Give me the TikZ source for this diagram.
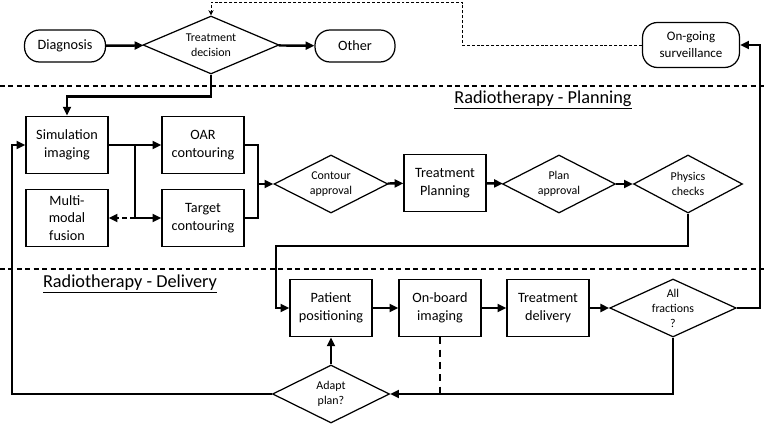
\documentclass[tikz,border=0pt]{standalone}
\usepackage{fontspec}
\setmainfont{Carlito}
\usetikzlibrary{shapes.geometric,arrows.meta}
\tikzset{
	box/.style={
		draw, line width=0.7pt,
		minimum width=1.64cm, minimum height=1.15cm,
		inner sep=1pt, align=center,
		font=\fontsize{8.1}{10}\selectfont
	},
	term/.style={
		draw, line width=0.7pt, rounded corners=0.3cm,
		minimum height=0.64cm, inner sep=1pt, align=center,
		font=\fontsize{8.1}{10}\selectfont
	},
	choice/.style={
		draw, diamond, line width=0.7pt, shape aspect=2.2,
		minimum height=1.16cm, inner sep=0pt, align=center,
		font=\fontsize{6.8}{8.5}\selectfont
	},
	flow/.style={line width=1.4pt, -{Triangle[length=5pt,width=4.5pt]}},
	link/.style={line width=1.4pt},
	lane/.style={line width=0.6pt, dash pattern=on 2.8pt off 2pt},
	back/.style={line width=0.45pt, dash pattern=on 1.7pt off 1.1pt, -{Stealth[length=3pt,width=3pt]}},
	lanetitle/.style={font=\fontsize{10.4}{12}\selectfont}
}
\begin{document}
\begin{tikzpicture}[x=0.02cm,y=-0.02cm]
	\useasboundingbox (0,0) rectangle (766,425);
	\draw[lane] (0,86) -- (766,86);
	\draw[lane] (0,269) -- (766,269);
	\node[lanetitle] (planlbl) at (543,100) {\underline{Radiotherapy - Planning}};
	\node[lanetitle] (delvlbl) at (130,284) {\underline{Radiotherapy - Delivery}};

	\node[term, minimum width=1.62cm] (diag) at (65,46) {Diagnosis};
	\node[choice, minimum width=2.72cm] (dec) at (211,45) {Treatment\\decision};
	\node[term, minimum width=1.6cm] (other) at (355,46) {Other};
	\node[term, minimum width=1.94cm, minimum height=0.9cm, font=\fontsize{7.4}{9.6}\selectfont] (surv) at (691,45) {On-going\\surveillance};

	\node[box] (sim) at (67,145) {Simulation\\imaging};
	\node[box] (oar) at (203,145) {OAR\\contouring};
	\node[box] (fus) at (67,218) {Multi-\\modal\\fusion};
	\node[box] (tgt) at (203,218) {Target\\contouring};
	\node[choice, minimum width=2.28cm] (cont) at (331,184) {Contour\\approval};
	\node[box] (tp) at (445,183) {Treatment\\Planning};
	\node[choice, minimum width=2.26cm] (papp) at (559,184) {Plan\\approval};
	\node[choice, minimum width=2.18cm] (phys) at (688,184) {Physics\\checks};

	\node[box] (pos) at (331,308) {Patient\\positioning};
	\node[box] (obi) at (440,308) {On-board\\imaging};
	\node[box] (del) at (548,308) {Treatment\\delivery};
	\node[choice, minimum width=2.28cm] (allf) at (673,308) {All\\fractions\\?};
	\node[choice, minimum width=2.34cm] (adapt) at (331,394) {Adapt\\plan?};

	\coordinate (split) at (135,145);
	\coordinate (join) at (258,184);

	\draw[flow] (diag) -- (dec);
	\draw[flow] (dec) -- (other);
	\draw[flow] (dec.south) -- ++(0,22) -| (sim.north);
	\draw[back] (surv.west) -| (462,2) -| (dec.north);

	\draw[flow] (sim) -- (oar);
	\draw[flow] (split) |- (tgt.west);
	\draw[flow, dash pattern=on 2.6pt off 2pt] (split |- tgt.west) -- (fus.east);
	\draw[link] (oar.east) -| (join);
	\draw[link] (tgt.east) -| (join);
	\draw[flow] (join) -- (cont.west);
	\draw[flow] (cont) -- (tp);
	\draw[flow] (tp) -- (papp);
	\draw[flow] (papp) -- (phys);
	\draw[flow] (phys.south) |- (276,246) |- (pos.west);

	\draw[flow] (pos) -- (obi);
	\draw[flow] (obi) -- (del);
	\draw[flow] (del) -- (allf);
	\draw[flow] (allf.east) -- ++(23,0) |- (surv.east);
	\draw[flow] (allf.south) |- (adapt.east);
	\draw[link, dash pattern=on 4pt off 3pt] (obi.south) -- (obi.south |- adapt.east);
	\draw[flow] (adapt.north) -- (pos.south);
	\draw[flow] (adapt.west) -| (12,200) |- (sim.west);
\end{tikzpicture}
\end{document}
